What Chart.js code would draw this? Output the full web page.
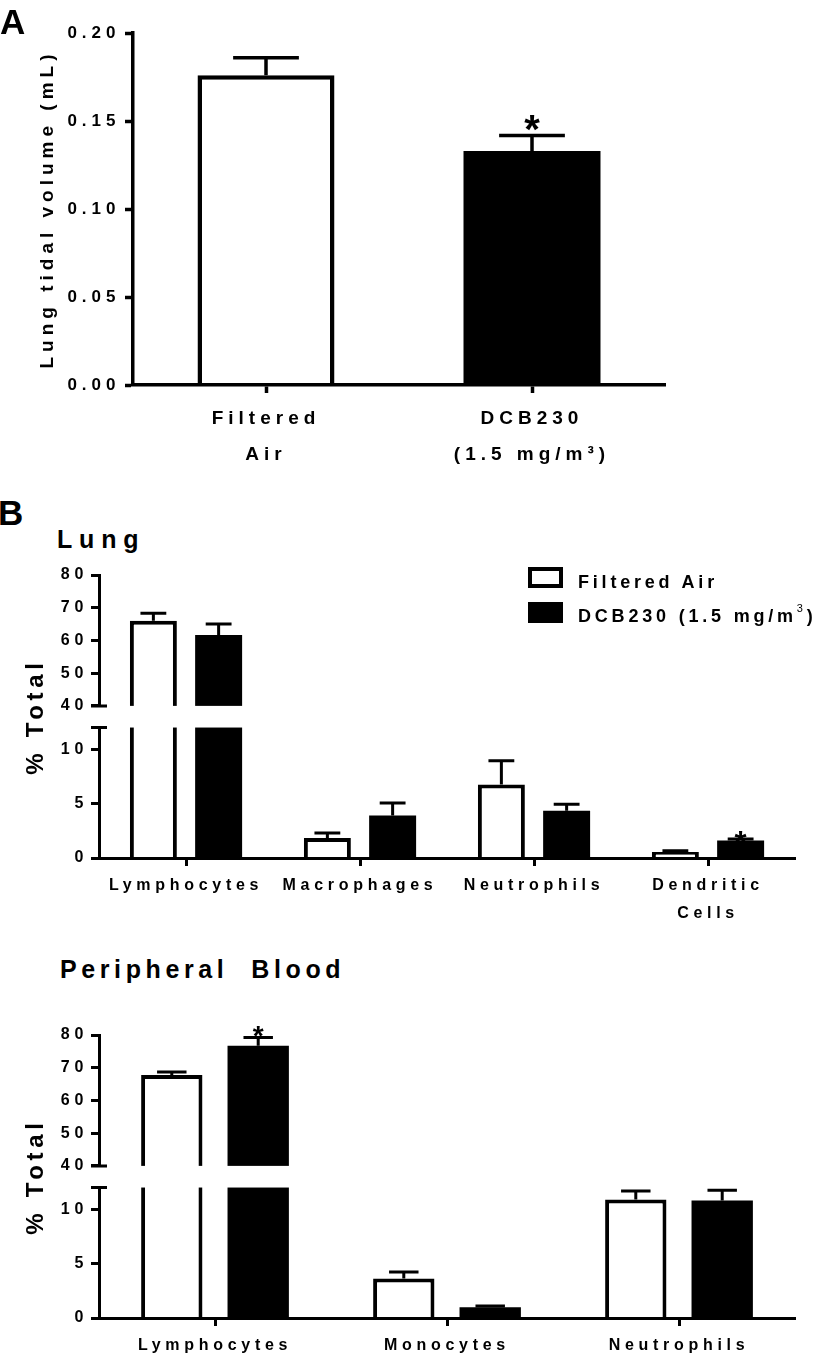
<!DOCTYPE html>
<html>
<head>
<meta charset="utf-8">
<script src="https://cdn.jsdelivr.net/npm/chart.js@4.4.1/dist/chart.umd.min.js"></script>
<style>
  html, body { margin: 0; padding: 0; background: #fff; }
  #page { position: relative; width: 822px; height: 1358px; overflow: hidden;
          font-family: 'Liberation Sans', Arial, sans-serif; font-weight: bold; color: #000; }
  canvas { position: absolute; left: 0; }
  .t { position: absolute; white-space: pre; line-height: 1; }
  .box { position: absolute; box-sizing: border-box; }
</style>
</head>
<body>
<div id="page">
  <canvas id="chartA" width="822" height="480" style="top:0px"></canvas>
  <canvas id="chartLung" width="822" height="380" style="top:560px"></canvas>
  <canvas id="chartBlood" width="822" height="338" style="top:1020px"></canvas>

  <div class="t" style="left:0px;top:3.7px;font-size:35px">A</div>
  <div class="t" style="left:-2px;top:495.4px;font-size:35px">B</div>
  <div class="t" style="left:57px;top:527px;font-size:25px;letter-spacing:6.8px">Lung</div>
  <div class="t" style="left:60px;top:957px;font-size:25px;letter-spacing:4.6px">Peripheral  Blood</div>

  <div class="box" style="left:528px;top:567px;width:35px;height:21px;border:4px solid #000;background:#fff"></div>
  <div class="box" style="left:528px;top:602px;width:35px;height:21px;background:#000"></div>
  <div class="t" style="left:578px;top:573px;font-size:18px;letter-spacing:3.8px">Filtered Air</div>
  <div class="t" style="left:578px;top:606.5px;font-size:18px;letter-spacing:3.8px">DCB230 (1.5 mg/m<span style="font-size:11px;font-weight:normal;position:relative;top:-10px">3</span>)</div>
</div>

<script>
// ---- panel A: lung tidal volume
const aLabels = [['Filtered', 'Air'], ['DCB230', '(1.5 mg/m³)']];
const aMeans = [0.176, 0.133];
const aErrors = [0.010, 0.0087];
const aStars = [false, true];
const aTicks = [0, 0.05, 0.10, 0.15, 0.20];

// ---- panel B: lung cells (% total)
const lungLabels = ['Lymphocytes', 'Macrophages', 'Neutrophils', ['Dendritic', 'Cells']];
const lungFA = [66.0, 1.85, 6.75, 0.55];
const lungFAerr = [2.3, 0.45, 2.2, 0.12];
const lungDCB = [61.7, 3.9, 4.35, 1.6];
const lungDCBerr = [3.3, 1.15, 0.6, 0.15];
const lungDCBstars = [false, false, false, true];

// ---- panel B: peripheral blood cells (% total)
const bloodLabels = ['Lymphocytes', 'Monocytes', 'Neutrophils'];
const bloodFA = [67.8, 3.63, 10.9];
const bloodFAerr = [0.9, 0.6, 0.77];
const bloodDCB = [76.7, 1.0, 10.8];
const bloodDCBerr = [2.5, 0.1, 0.95];
const bloodDCBstars = [true, false, false];

const brokenTicks = [0, 5, 10, 40, 50, 60, 70, 80];

Chart.defaults.font.family = "'Liberation Sans', Arial, sans-serif";
Chart.defaults.font.weight = 'bold';
Chart.defaults.color = '#000';

// linear axis with a gap between breakLow and breakHigh
class BrokenScale extends Chart.LinearScale {
  static id = 'broken';
  _brokenDecimal(value) {
    const o = this.options;
    const lo = o.breakLow, hi = o.breakHigh, f = o.lowShare, g = o.gapShare;
    if (value <= lo) return (value - this.min) / (lo - this.min) * f;
    if (value >= hi) return f + g + (value - hi) / (this.max - hi) * (1 - f - g);
    return f + (value - lo) / (hi - lo) * g;
  }
  getPixelForValue(value) {
    if (value === null || value === undefined || isNaN(value)) return NaN;
    return this.getPixelForDecimal(this._brokenDecimal(value));
  }
  getValueForPixel(pixel) {
    const o = this.options;
    const d = this.getDecimalForPixel(pixel);
    const lo = o.breakLow, hi = o.breakHigh, f = o.lowShare, g = o.gapShare;
    if (d <= f) return this.min + d / f * (lo - this.min);
    if (d >= f + g) return hi + (d - f - g) / (1 - f - g) * (this.max - hi);
    return lo + (d - f) / g * (hi - lo);
  }
}
Chart.register(BrokenScale);

// canvas letter spacing (the figure uses wide tracking)
const spacing = {
  id: 'spacing',
  beforeUpdate(chart, args, opts) { chart.ctx.letterSpacing = opts.px + 'px'; },
  beforeDraw(chart, args, opts) { chart.ctx.letterSpacing = opts.px + 'px'; }
};

// upward error bars + significance stars
const errorBars = {
  id: 'errorBars',
  afterDatasetsDraw(chart, args, opts) {
    const ctx = chart.ctx, y = chart.scales.y;
    ctx.save();
    ctx.strokeStyle = '#000';
    ctx.fillStyle = '#000';
    ctx.lineWidth = opts.width;
    chart.data.datasets.forEach((ds, i) => {
      chart.getDatasetMeta(i).data.forEach((bar, j) => {
        const top = y.getPixelForValue(ds.data[j]);
        const end = y.getPixelForValue(ds.data[j] + ds.errors[j]);
        const half = bar.width * opts.cap / 2;
        ctx.beginPath();
        ctx.moveTo(bar.x, top);
        ctx.lineTo(bar.x, end);
        ctx.moveTo(bar.x - half, end);
        ctx.lineTo(bar.x + half, end);
        ctx.stroke();
        if (ds.stars && ds.stars[j]) {
          ctx.font = 'bold ' + opts.starSize + "px 'Liberation Sans', Arial, sans-serif";
          ctx.textAlign = 'center';
          ctx.textBaseline = 'alphabetic';
          ctx.fillText('*', bar.x + opts.shift, end + opts.starDy);
        }
      });
    });
    ctx.restore();
  }
};

// white gap + break marks on the y axis
const axisBreak = {
  id: 'axisBreak',
  afterDatasetsDraw(chart, args, opts) {
    const ctx = chart.ctx, y = chart.scales.y, area = chart.chartArea;
    const hi = y.getPixelForValue(y.options.breakHigh);
    const lo = y.getPixelForValue(y.options.breakLow);
    ctx.save();
    ctx.fillStyle = '#fff';
    ctx.fillRect(area.left - 10, hi, area.right - area.left + 20, lo - hi);
    ctx.strokeStyle = '#000';
    ctx.lineWidth = opts.width;
    ctx.beginPath();
    [hi, lo].forEach(p => {
      ctx.moveTo(area.left - opts.len, p);
      ctx.lineTo(area.left + opts.len, p);
    });
    ctx.stroke();
    ctx.restore();
  }
};

function tickGrid(w) {
  return { drawOnChartArea: false, tickLength: 8, tickWidth: w, tickColor: '#000', color: '#000' };
}

// PANEL A
new Chart(document.getElementById('chartA'), {
  type: 'bar',
  data: {
    labels: aLabels,
    datasets: [{
      data: aMeans,
      errors: aErrors,
      stars: aStars,
      backgroundColor: ['#fff', '#000'],
      borderColor: '#000',
      borderWidth: [4.5, 0],
      categoryPercentage: 0.515,
      barPercentage: 1
    }]
  },
  options: {
    responsive: false,
    animation: false,
    layout: { padding: { left: 0, top: 33, right: 157, bottom: 0 } },
    plugins: {
      legend: { display: false },
      tooltip: { enabled: false },
      spacing: { px: 5 },
      errorBars: { width: 3.5, cap: 0.48, starSize: 40, starDy: 7, shift: 2.5 }
    },
    scales: {
      x: {
        grid: Object.assign(tickGrid(3.5), { offset: false }),
        border: { color: '#000', width: 3.5, z: 1 },
        ticks: { font: { size: 19, lineHeight: 1.9 }, padding: 8, maxRotation: 0, minRotation: 0, autoSkip: false },
        afterFit: s => { s.height = 95; }
      },
      y: {
        min: 0,
        max: 0.2,
        afterBuildTicks: s => { s.ticks = aTicks.map(v => ({ value: v })); },
        ticks: { font: { size: 17 }, padding: 4.5, autoSkip: false, callback: v => v.toFixed(2) },
        grid: tickGrid(3.5),
        border: { color: '#000', width: 3.5 },
        title: { display: true, text: 'Lung tidal volume (mL)', font: { size: 19 }, padding: { top: 36, bottom: 0 } },
        afterFit: s => { s.width = 133; }
      }
    }
  },
  plugins: [spacing, errorBars]
});

// PANEL B charts with the broken axis
function brokenChart(id, labels, fa, faErr, dcb, dcbErr, dcbStars, xHeight, catPct, barPct, cap, starSize, starDy) {
  return new Chart(document.getElementById(id), {
    type: 'bar',
    data: {
      labels: labels,
      datasets: [
        { label: 'Filtered Air', data: fa, errors: faErr, backgroundColor: '#fff', borderColor: '#000',
          borderWidth: 4, categoryPercentage: catPct, barPercentage: barPct },
        { label: 'DCB230 (1.5 mg/m³)', data: dcb, errors: dcbErr, stars: dcbStars, backgroundColor: '#000',
          borderColor: '#000', borderWidth: 0, categoryPercentage: catPct, barPercentage: barPct }
      ]
    },
    options: {
      responsive: false,
      animation: false,
      layout: { padding: { left: 0, top: 15, right: 27, bottom: 0 } },
      plugins: {
        legend: { display: false },
        tooltip: { enabled: false },
        spacing: { px: 4.7 },
        errorBars: { width: 3, cap: cap, starSize: starSize, starDy: starDy, shift: 2.3 },
        axisBreak: { width: 3, len: 8 }
      },
      scales: {
        x: {
          grid: Object.assign(tickGrid(3), { offset: false }),
          border: { color: '#000', width: 3, z: 1 },
          ticks: { font: { size: 16, lineHeight: 1.72 }, padding: 6, maxRotation: 0, minRotation: 0, autoSkip: false },
          afterFit: s => { s.height = xHeight; }
        },
        y: {
          type: 'broken',
          min: 0,
          max: 80,
          breakLow: 12,
          breakHigh: 40,
          lowShare: 0.461,
          gapShare: 0.0765,
          afterBuildTicks: s => { s.ticks = brokenTicks.map(v => ({ value: v })); },
          ticks: { font: { size: 16 }, padding: 3, autoSkip: false, callback: v => String(v) },
          grid: tickGrid(3),
          border: { color: '#000', width: 3 },
          title: { display: true, text: '% Total', font: { size: 24 }, padding: { top: 22, bottom: 0 } },
          afterFit: s => { s.width = 99; }
        }
      }
    },
    plugins: [spacing, errorBars, axisBreak]
  });
}

brokenChart('chartLung', lungLabels, lungFA, lungFAerr, lungDCB, lungDCBerr, lungDCBstars,
  82, 0.75, 0.72, 0.55, 31, 14);
brokenChart('chartBlood', bloodLabels, bloodFA, bloodFAerr, bloodDCB, bloodDCBerr, bloodDCBstars,
  40, 0.745, 0.71, 0.48, 28, 7);
</script>
</body>
</html>
